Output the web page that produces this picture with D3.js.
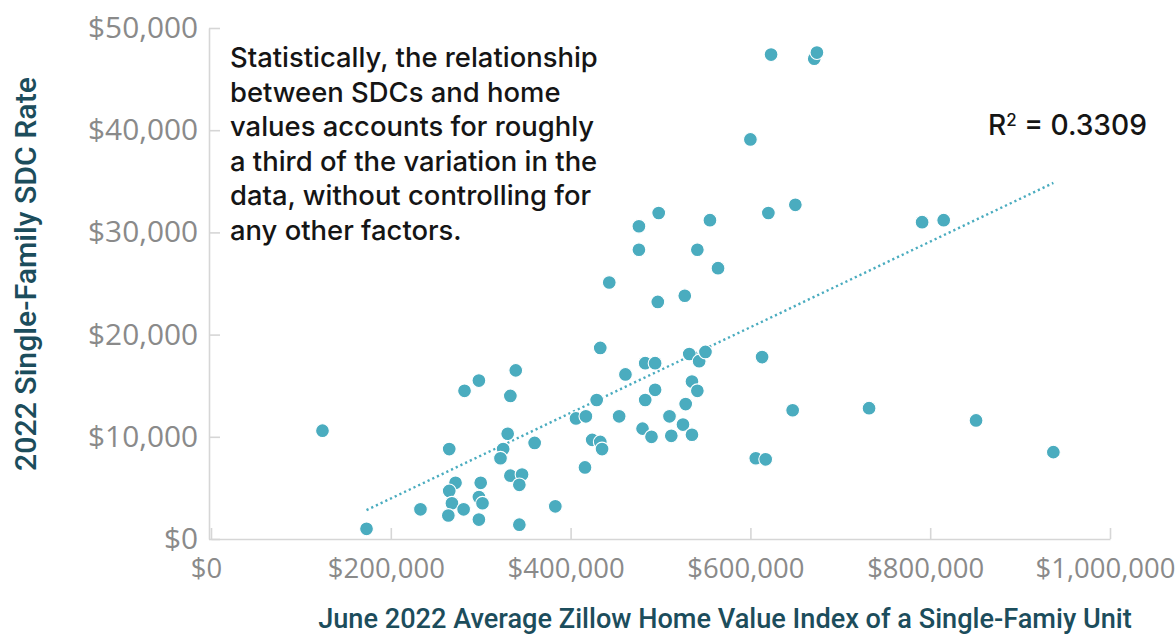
<!DOCTYPE html>
<html><head><meta charset="utf-8">
<script src="https://cdn.jsdelivr.net/npm/d3@7"></script>
<style>body{margin:0;background:#fff;} svg{display:block}</style>
</head><body><svg id="chart" width="1175" height="638"></svg>
<script>
// ---- data ----
const homeValues = [124000,173000,233000,265000,282000,298000,339000,333000,330000,325000,
  322000,272000,265000,268000,264000,281000,298000,298000,302000,300000,
  333000,346000,343000,343000,360000,383000,406000,417000,416000,429000,
  433000,424000,433000,435000,443000,454000,461000,476000,476000,498000,
  497000,483000,494000,483000,494000,480000,490000,510000,512000,525000,
  535000,528000,535000,541000,527000,541000,555000,564000,532000,543000,
  550000,623000,671000,674000,600000,620000,650000,613000,606000,617000,
  647000,732000,851000,937000,791000,815000];
const sdcRates = [10600,1000,2900,8800,14500,15500,16500,14000,10300,8800,
  7900,5500,4700,3500,2300,2900,1900,4100,3500,5500,
  6200,6300,5300,1400,9400,3200,11800,12000,7000,13600,
  18700,9700,9500,8800,25100,12000,16100,30600,28300,31900,
  23200,17200,17200,13600,14600,10800,10000,12000,10100,11200,
  10200,13200,15400,14500,23800,28300,31200,26500,18100,17400,
  18300,47400,47000,47600,39100,31900,32700,17800,7900,7800,
  12600,12800,11600,8500,31000,31200];
const xTicks = [0,200000,400000,600000,800000,1000000];
const yTicks = [0,10000,20000,30000,40000,50000];
// linear trendline as drawn in the picture (start/end home values, slope, intercept)
const trendRange = [173000, 937000];
const trendSlope = 0.04190;
const trendIntercept = -4420;
const rSquaredValue = "0.3309";
const annotationLines = [
  "Statistically, the relationship",
  "between SDCs and home",
  "values accounts for roughly",
  "a third of the variation in the",
  "data, without controlling for",
  "any other factors."
];
const xTitle = "June 2022 Average Zillow Home Value Index of a Single-Famiy Unit";
const yTitle = "2022 Single-Family SDC Rate";

// ---- drawing ----
const svg = d3.select("#chart");
const x = d3.scaleLinear().domain([0,1000000]).range([211,1110]);
const y = d3.scaleLinear().domain([0,50000]).range([539,28]);
const fmt = d3.format("$,.0f");
const axisColor = "#d6d6d6", tickTextColor = "#8a8a8a", titleColor = "#1c4d5c", dotColor = "#4aacbf";

function fitFont(sel, sample, target) {
  const node = sample.node();
  const base = parseFloat(sample.attr("font-size") || sample.style("font-size"));
  const len = node.getComputedTextLength();
  const fs = base * target / len;
  sel.attr("font-size", fs);
  return fs;
}

const gx = svg.append("g").attr("transform", `translate(0,${y(0)})`)
  .call(d3.axisBottom(x).tickValues(xTicks).tickFormat(fmt).tickSizeInner(-11).tickSizeOuter(0).tickPadding(19));
const gy = svg.append("g").attr("transform", `translate(${x(0)-2},0)`)
  .call(d3.axisLeft(y).tickValues(yTicks).tickFormat(fmt).tickSizeInner(-11).tickSizeOuter(0).tickPadding(11));
[gx, gy].forEach(g => {
  g.select(".domain").attr("stroke", axisColor).attr("stroke-width", 1.6);
  g.selectAll(".tick line").attr("stroke", axisColor).attr("stroke-width", 1.6);
  g.selectAll("text").attr("fill", tickTextColor).attr("font-family", "'Open Sans', sans-serif").attr("font-size", 26);
});
gx.attr("font-family", null).attr("font-size", null);
gy.attr("font-family", null).attr("font-size", null);
fitFont(gx.selectAll("text"), gx.selectAll("text").filter(d => d === 1000000), 140);
gx.selectAll("text").attr("x", -5);
fitFont(gy.selectAll("text"), gy.selectAll("text").filter(d => d === 50000), 110);

// trend line
svg.append("line")
  .attr("x1", x(trendRange[0])).attr("y1", y(trendSlope*trendRange[0] + trendIntercept))
  .attr("x2", x(trendRange[1])).attr("y2", y(trendSlope*trendRange[1] + trendIntercept))
  .attr("stroke", dotColor).attr("stroke-width", 2.4).attr("stroke-dasharray", "2.2 3");

// points
svg.append("g").selectAll("circle").data(homeValues.map((v,i) => [v, sdcRates[i]]))
  .join("circle")
  .attr("cx", d => x(d[0])).attr("cy", d => y(d[1])).attr("r", 6.9)
  .attr("fill", dotColor).attr("stroke", "#fff").attr("stroke-width", 1.1);

// annotation
const ann = svg.append("text").attr("font-family", "Inter, 'Open Sans', sans-serif").attr("font-weight", 500)
  .attr("fill", "#151515").attr("font-size", 24);
annotationLines.forEach((l, i) => {
  ann.append("tspan").attr("x", 230).attr("y", 67 + i*34.5).text(l);
});
{
  const first = ann.select("tspan");
  const len = first.node().getComputedTextLength();
  ann.attr("font-size", 24 * 368 / len);
}

// R squared
const r2 = svg.append("text").attr("x", 988).attr("y", 135).attr("font-family", "Inter, 'Open Sans', sans-serif")
  .attr("font-weight", 500).attr("fill", "#151515").attr("font-size", 26);
r2.append("tspan").text("R");
r2.append("tspan").attr("font-size", "0.6em").attr("dy", "-0.55em").text("2");
r2.append("tspan").attr("dy", "0.33em").text(" = " + rSquaredValue);
{
  const len = r2.node().getComputedTextLength();
  r2.attr("font-size", 26 * 159 / len);
}

// axis titles
const xt = svg.append("text").attr("x", 725).attr("y", 628).attr("text-anchor", "middle")
  .attr("font-family", "Roboto, 'Open Sans', sans-serif").attr("font-weight", 500).attr("fill", titleColor)
  .attr("font-size", 24).text(xTitle);
fitFont(xt, xt, 814);
const yt = svg.append("text").attr("transform", "translate(36,274) rotate(-90)").attr("text-anchor", "middle")
  .attr("font-family", "Roboto, 'Open Sans', sans-serif").attr("font-weight", 500).attr("fill", titleColor)
  .attr("font-size", 24).text(yTitle);
fitFont(yt, yt, 394);
</script>
</body></html>
